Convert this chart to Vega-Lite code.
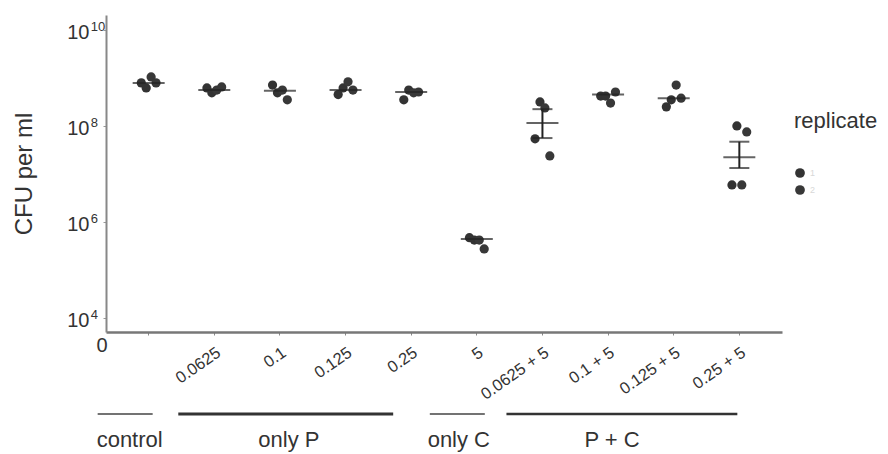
{
  "$schema": "https://vega.github.io/schema/vega-lite/v6.json",
  "width": 676,
  "height": 317,
  "autosize": {"type": "none"},
  "padding": {"left": 106, "top": 15, "right": 106, "bottom": 122},
  "background": "white",
  "config": {
    "view": {"stroke": null},
    "font": "Liberation Sans",
    "axis": {"grid": false}
  },
  "datasets": {
    "points": [
      {"treatment": "control", "rep": "1", "replicate": "1", "cfu": 7.9e8},
      {"treatment": "control", "rep": "2", "replicate": "1", "cfu": 6.2e8},
      {"treatment": "control", "rep": "3", "replicate": "2", "cfu": 1.05e9},
      {"treatment": "control", "rep": "4", "replicate": "2", "cfu": 7.9e8},
      {"treatment": "0.0625", "rep": "1", "replicate": "1", "cfu": 6.2e8},
      {"treatment": "0.0625", "rep": "2", "replicate": "1", "cfu": 4.9e8},
      {"treatment": "0.0625", "rep": "3", "replicate": "2", "cfu": 5.6e8},
      {"treatment": "0.0625", "rep": "4", "replicate": "2", "cfu": 6.5e8},
      {"treatment": "0.1", "rep": "1", "replicate": "1", "cfu": 7.1e8},
      {"treatment": "0.1", "rep": "2", "replicate": "1", "cfu": 4.9e8},
      {"treatment": "0.1", "rep": "3", "replicate": "2", "cfu": 5.6e8},
      {"treatment": "0.1", "rep": "4", "replicate": "2", "cfu": 3.5e8},
      {"treatment": "0.125", "rep": "1", "replicate": "1", "cfu": 4.5e8},
      {"treatment": "0.125", "rep": "2", "replicate": "1", "cfu": 6.2e8},
      {"treatment": "0.125", "rep": "3", "replicate": "2", "cfu": 8.3e8},
      {"treatment": "0.125", "rep": "4", "replicate": "2", "cfu": 5.6e8},
      {"treatment": "0.25", "rep": "1", "replicate": "1", "cfu": 3.5e8},
      {"treatment": "0.25", "rep": "2", "replicate": "1", "cfu": 5.6e8},
      {"treatment": "0.25", "rep": "3", "replicate": "2", "cfu": 4.9e8},
      {"treatment": "0.25", "rep": "4", "replicate": "2", "cfu": 5.1e8},
      {"treatment": "5", "rep": "1", "replicate": "1", "cfu": 4.7e5},
      {"treatment": "5", "rep": "2", "replicate": "1", "cfu": 4.2e5},
      {"treatment": "5", "rep": "3", "replicate": "2", "cfu": 4.2e5},
      {"treatment": "5", "rep": "4", "replicate": "2", "cfu": 2.75e5},
      {"treatment": "0.0625 + 5", "rep": "1", "replicate": "1", "cfu": 5.4e7},
      {"treatment": "0.0625 + 5", "rep": "2", "replicate": "1", "cfu": 3.16e8},
      {"treatment": "0.0625 + 5", "rep": "3", "replicate": "2", "cfu": 2.37e8},
      {"treatment": "0.0625 + 5", "rep": "4", "replicate": "2", "cfu": 2.37e7},
      {"treatment": "0.1 + 5", "rep": "1", "replicate": "1", "cfu": 4.2e8},
      {"treatment": "0.1 + 5", "rep": "2", "replicate": "1", "cfu": 4.2e8},
      {"treatment": "0.1 + 5", "rep": "3", "replicate": "2", "cfu": 3.0e8},
      {"treatment": "0.1 + 5", "rep": "4", "replicate": "2", "cfu": 5.1e8},
      {"treatment": "0.125 + 5", "rep": "1", "replicate": "1", "cfu": 2.5e8},
      {"treatment": "0.125 + 5", "rep": "2", "replicate": "1", "cfu": 3.5e8},
      {"treatment": "0.125 + 5", "rep": "3", "replicate": "2", "cfu": 7.1e8},
      {"treatment": "0.125 + 5", "rep": "4", "replicate": "2", "cfu": 3.8e8},
      {"treatment": "0.25 + 5", "rep": "1", "replicate": "1", "cfu": 5.9e6},
      {"treatment": "0.25 + 5", "rep": "2", "replicate": "1", "cfu": 1.0e8},
      {"treatment": "0.25 + 5", "rep": "3", "replicate": "2", "cfu": 5.9e6},
      {"treatment": "0.25 + 5", "rep": "4", "replicate": "2", "cfu": 7.5e7}
    ],
    "summary": [
      {"treatment": "control", "mean": 7.9e8, "lo": null, "hi": null},
      {"treatment": "0.0625", "mean": 5.6e8, "lo": null, "hi": null},
      {"treatment": "0.1", "mean": 5.4e8, "lo": null, "hi": null},
      {"treatment": "0.125", "mean": 5.6e8, "lo": null, "hi": null},
      {"treatment": "0.25", "mean": 5.1e8, "lo": null, "hi": null},
      {"treatment": "5", "mean": 4.4e5, "lo": null, "hi": null},
      {"treatment": "0.0625 + 5", "mean": 1.15e8, "lo": 5.6e7, "hi": 2.24e8},
      {"treatment": "0.1 + 5", "mean": 4.5e8, "lo": null, "hi": null},
      {"treatment": "0.125 + 5", "mean": 3.8e8, "lo": null, "hi": null},
      {"treatment": "0.25 + 5", "mean": 2.24e7, "lo": 1.33e7, "hi": 4.7e7}
    ],
    "exponents": [
      {"tick": 10000, "exp": "4"},
      {"tick": 1000000, "exp": "6"},
      {"tick": 100000000, "exp": "8"},
      {"tick": 10000000000, "exp": "10"}
    ]
  },
  "layer": [
    {
      "data": {"name": "points"},
      "mark": {"type": "point", "filled": true, "size": 85, "opacity": 1},
      "encoding": {
        "x": {
          "field": "treatment",
          "type": "nominal",
          "sort": null,
          "scale": {
            "type": "band",
            "domain": ["control", "0.0625", "0.1", "0.125", "0.25", "5", "0.0625 + 5", "0.1 + 5", "0.125 + 5", "0.25 + 5"],
            "paddingInner": 0.7,
            "paddingOuter": 0.5
          },
          "axis": {
            "title": null,
            "labelExpr": "datum.value == 'control' ? '' : datum.value",
            "labelAngle": -35,
            "labelFontSize": 16.5,
            "labelColor": "#333333",
            "labelPadding": 9,
            "domainColor": "#777777",
            "domainWidth": 2.5,
            "tickColor": "#888888",
            "tickSize": 3
          }
        },
        "xOffset": {"field": "rep", "type": "nominal"},
        "y": {
          "field": "cfu",
          "type": "quantitative",
          "scale": {"type": "log", "domain": [5105, 2.05e10], "nice": false},
          "axis": {
            "title": "CFU per ml",
            "titleFontSize": 24,
            "titleFontWeight": "normal",
            "titleColor": "#333333",
            "titlePadding": 30,
            "values": [5105, 10000, 1000000, 100000000, 10000000000],
            "labelExpr": "datum.value < 9000 ? '0' : '10'",
            "labelFontSize": 20,
            "labelColor": "#333333",
            "labelPadding": {"condition": {"test": "datum.value < 9000", "value": -4}, "value": 14},
            "labelOffset": 3,
            "labelBaseline": {"condition": {"test": "datum.value < 9000", "value": "top"}, "value": "middle"},
            "tickColor": {"condition": {"test": "datum.value < 9000", "value": "transparent"}, "value": "#999999"},
            "tickSize": 3,
            "domainColor": "#888888",
            "domainWidth": 2
          }
        },
        "color": {
          "field": "replicate",
          "type": "nominal",
          "scale": {"domain": ["1", "2"], "range": ["#333333", "#383838"]},
          "legend": {
            "title": "replicate",
            "orient": "none",
            "legendX": 688,
            "legendY": 96,
            "titleFontSize": 22,
            "titleFontWeight": "normal",
            "titleColor": "#333333",
            "titlePadding": 34,
            "labelColor": "#d8d8d8",
            "labelFontSize": 9,
            "symbolSize": 95,
            "symbolType": "circle",
            "rowPadding": 6
          }
        }
      }
    },
    {
      "data": {"name": "exponents"},
      "mark": {"type": "text", "fontSize": 13, "align": "left", "baseline": "alphabetic", "color": "#333333", "dx": -58, "dy": 1},
      "encoding": {
        "x": {"datum": "control"},
        "y": {"field": "tick", "type": "quantitative"},
        "text": {"field": "exp"}
      }
    },
    {
      "data": {"name": "summary"},
      "mark": {"type": "tick", "size": 32, "thickness": 2, "color": "#222222"},
      "encoding": {
        "x": {"field": "treatment", "type": "nominal"},
        "y": {"field": "mean", "type": "quantitative"}
      }
    },
    {
      "data": {"name": "summary"},
      "mark": {"type": "rule", "strokeWidth": 2, "color": "#222222"},
      "encoding": {
        "x": {"field": "treatment", "type": "nominal"},
        "y": {"field": "lo", "type": "quantitative"},
        "y2": {"field": "hi"}
      }
    },
    {
      "data": {"name": "summary"},
      "mark": {"type": "tick", "size": 20, "thickness": 2, "color": "#222222"},
      "encoding": {
        "x": {"field": "treatment", "type": "nominal"},
        "y": {"field": "lo", "type": "quantitative"}
      }
    },
    {
      "data": {"name": "summary"},
      "mark": {"type": "tick", "size": 20, "thickness": 2, "color": "#222222"},
      "encoding": {
        "x": {"field": "treatment", "type": "nominal"},
        "y": {"field": "hi", "type": "quantitative"}
      }
    },
    {
      "data": {"values": [{"group": "control", "first": "control", "last": "control"}]},
      "layer": [
        {
          "mark": {"type": "rule", "strokeWidth": 1.5, "color": "#444444", "xOffset": -51, "x2Offset": 4},
          "encoding": {"x": {"field": "first", "type": "nominal"}, "x2": {"field": "last"}, "y": {"datum": 100}}
        },
        {
          "mark": {"type": "text", "fontSize": 22, "color": "#333333", "dx": -19},
          "encoding": {"x": {"field": "first", "type": "nominal"}, "y": {"datum": 29}, "text": {"field": "group"}}
        }
      ]
    },
    {
      "data": {"values": [{"group": "only P", "first": "0.0625", "last": "0.25", "anchor": "0.1"}]},
      "layer": [
        {
          "mark": {"type": "rule", "strokeWidth": 3, "color": "#333333", "xOffset": -36, "x2Offset": -18},
          "encoding": {"x": {"field": "first", "type": "nominal"}, "x2": {"field": "last"}, "y": {"datum": 100}}
        },
        {
          "mark": {"type": "text", "fontSize": 22, "color": "#333333", "dx": 9},
          "encoding": {"x": {"field": "anchor", "type": "nominal"}, "y": {"datum": 29}, "text": {"field": "group"}}
        }
      ]
    },
    {
      "data": {"values": [{"group": "only C", "first": "5", "last": "5"}]},
      "layer": [
        {
          "mark": {"type": "rule", "strokeWidth": 1.5, "color": "#444444", "xOffset": -47, "x2Offset": 8},
          "encoding": {"x": {"field": "first", "type": "nominal"}, "x2": {"field": "last"}, "y": {"datum": 100}}
        },
        {
          "mark": {"type": "text", "fontSize": 22, "color": "#333333", "dx": -18},
          "encoding": {"x": {"field": "first", "type": "nominal"}, "y": {"datum": 29}, "text": {"field": "group"}}
        }
      ]
    },
    {
      "data": {"values": [{"group": "P + C", "first": "0.0625 + 5", "last": "0.25 + 5", "anchor": "0.1 + 5"}]},
      "layer": [
        {
          "mark": {"type": "rule", "strokeWidth": 2.5, "color": "#333333", "xOffset": -36, "x2Offset": -2},
          "encoding": {"x": {"field": "first", "type": "nominal"}, "x2": {"field": "last"}, "y": {"datum": 100}}
        },
        {
          "mark": {"type": "text", "fontSize": 22, "color": "#333333", "dx": 4},
          "encoding": {"x": {"field": "anchor", "type": "nominal"}, "y": {"datum": 29}, "text": {"field": "group"}}
        }
      ]
    }
  ]
}
